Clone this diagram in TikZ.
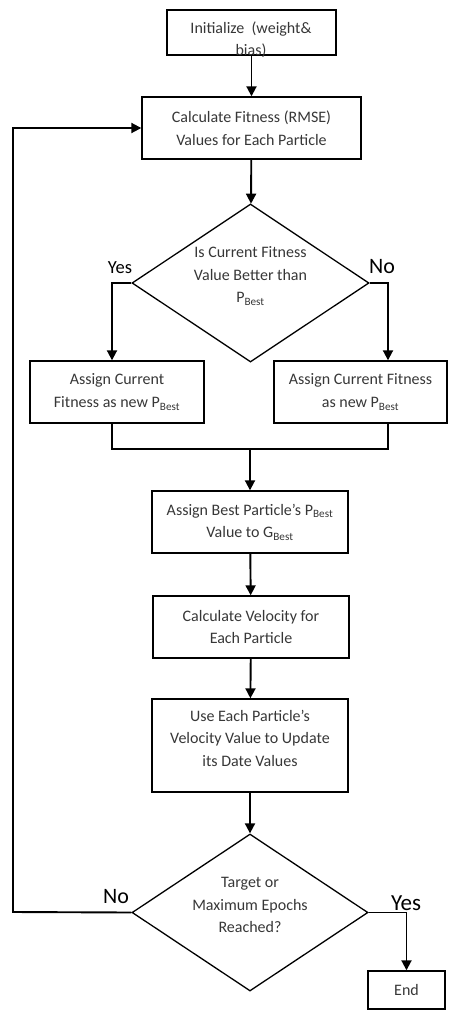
\documentclass[tikz,border=0pt]{standalone}
\usepackage{fontspec}
\setmainfont{Carlito}
\usetikzlibrary{shapes.geometric,arrows.meta,calc}
\definecolor{txtc}{RGB}{55,55,55}
\newcommand{\best}{\textsubscript{Best}}
\tikzset{
  box/.style={draw, line width=1.4pt, inner sep=0pt, align=center, text=txtc,
    font=\fontsize{16}{22.5}\selectfont},
  dia/.style={draw, line width=1.3pt, diamond, inner sep=0pt},
  txt/.style={inner sep=0pt, align=center, text=txtc, font=\fontsize{16}{22.5}\selectfont},
  arr/.style={line width=1.9pt, -{Triangle[width=10pt,length=10pt]}},
  conn/.style={line width=1.4pt},
  lbl/.style={text=black, inner sep=0pt},
}
\begin{document}
\begin{tikzpicture}[x=1pt,y=-1pt]
\useasboundingbox (0,0) rectangle (453,1028);
\node[box, minimum width=169pt, minimum height=45pt] (init) at (251.5,32.5) {};
\node[txt] (initt) at (251,40) {Initialize\ \ (weight\&\\bias)};
\node[box, minimum width=219pt, minimum height=62pt] (fit) at (251.5,128) {Calculate Fitness (RMSE)\\Values for Each Particle};
\node[dia, minimum width=237pt, minimum height=158pt] (d1) at (250.5,283) {};
\node[txt] (d1t) at (250.5,276) {Is Current Fitness\\Value Better than\\P\best};
\node[box, minimum width=174pt, minimum height=62pt] (L) at (117,392) {Assign Current\\Fitness as new P\best};
\node[box, minimum width=173pt, minimum height=62pt] (R) at (360.5,392) {Assign Current Fitness\\as new P\best};
\node[box, minimum width=196pt, minimum height=62pt] (ab) at (250,522) {Assign Best Particle’s P\best\\Value to G\best};
\node[box, minimum width=196pt, minimum height=62pt] (cv) at (251,627) {Calculate Velocity for\\Each Particle};
\node[box, minimum width=196pt, minimum height=93pt] (ue) at (250,745.5) {Use Each Particle’s\\Velocity Value to Update\\its Date Values\\[-8pt]\ };
\node[dia, minimum width=236pt, minimum height=157pt] (d2) at (250,912.5) {};
\node[txt] (d2t) at (250,905) {Target or\\Maximum Epochs\\Reached?};
\node[box, minimum width=77pt, minimum height=38pt] (end) at (406.5,990) {End};
\coordinate (lx) at (112,0);
\coordinate (rx) at (388,0);
\coordinate (jn) at (250,449);
\coordinate (lp) at (13,912);
\draw[arr] (init) -- (fit);
\draw[arr] (fit) -- (d1);
\draw[arr] (d1.west) -| (lx |- L.north);
\draw[arr] (d1.east) -| (rx |- R.north);
\draw[conn] (lx |- L.south) |- (jn) -| (rx |- R.south);
\draw[arr] (jn) -- (ab);
\draw[arr] (ab) -- (cv);
\draw[arr] (cv) -- (ue);
\draw[arr] (ue) -- (d2);
\draw[arr] (d2.west) -- (lp) |- (fit.west);
\draw[arr] (d2.east) -| (end.north);
\node[lbl, font=\fontsize{18.5}{18.5}\selectfont] (y1) at (120,268) {Yes};
\node[lbl, font=\fontsize{22}{22}\selectfont] (n1) at (382,267) {No};
\node[lbl, font=\fontsize{22}{22}\selectfont] (n2) at (116,897) {No};
\node[lbl, font=\fontsize{23}{23}\selectfont] (y2) at (406,903) {Yes};
\end{tikzpicture}
\end{document}
